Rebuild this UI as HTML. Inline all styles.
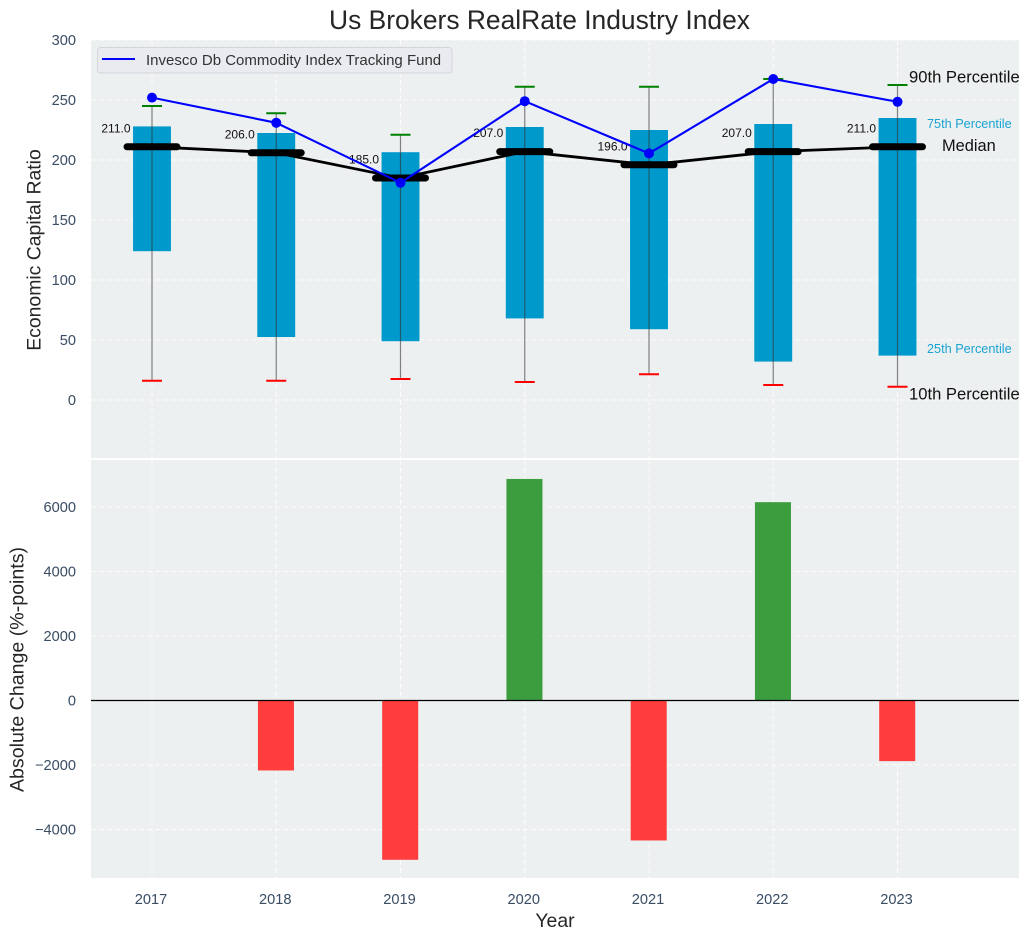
<!DOCTYPE html>
<html lang="en">
<head>
<meta charset="utf-8">
<title>Us Brokers RealRate Industry Index</title>
<style>
html,body{margin:0;padding:0;background:#fff;width:1030px;height:940px;overflow:hidden}
svg{display:block;font-family:"Liberation Sans",Arial,sans-serif}
</style>
</head>
<body>
<svg id="chart" xmlns="http://www.w3.org/2000/svg" width="1030" height="940" viewBox="0 0 1030 940">
  <rect x="91" y="40" width="928" height="418" fill="#ecf0f1"/>
  <rect x="91" y="460" width="928" height="418" fill="#ecf0f1"/>
  <g id="grid"></g>
  <g id="ticks" font-size="14.6" fill="#3a4d63"></g>
  <g id="bars"></g>
  <g id="boxes"></g>
  <g id="medians"></g>
  <g id="fund"></g>
  <text x="539.5" y="29" font-size="26.4" text-anchor="middle" fill="#262626">Us Brokers RealRate Industry Index</text>
  <text transform="translate(40.5,250) rotate(-90)" font-size="19.4" text-anchor="middle" fill="#262626">Economic Capital Ratio</text>
  <text transform="translate(23.5,669.5) rotate(-90)" font-size="19.6" text-anchor="middle" fill="#262626">Absolute Change (%-points)</text>
  <text x="555" y="927" font-size="19.4" text-anchor="middle" fill="#262626">Year</text>
  <g>
    <rect x="97.5" y="47.5" width="354.5" height="25.5" rx="3" fill="#e9ebf0" stroke="#d2d5da" stroke-width="1"/>
    <line x1="102" y1="59" x2="135" y2="59" stroke="#0000ff" stroke-width="2"/>
    <text x="146" y="65" font-size="15" fill="#333">Invesco Db Commodity Index Tracking Fund</text>
  </g>
  <g>
    <text x="909" y="82.5" font-size="16.6" fill="#111">90th Percentile</text>
    <text x="927" y="128" font-size="12.7" fill="#1aa3d1">75th Percentile</text>
    <text x="942" y="151" font-size="16.4" fill="#111">Median</text>
    <text x="927" y="353" font-size="12.7" fill="#1aa3d1">25th Percentile</text>
    <text x="909" y="399.5" font-size="16.6" fill="#111">10th Percentile</text>
  </g>
</svg>
<script>
const years = [2017, 2018, 2019, 2020, 2021, 2022, 2023];
const p90 = [245, 239, 221, 261, 261, 267.5, 262.5];
const p75 = [228, 222.5, 206.5, 227.5, 225, 230, 235];
const medianValues = [211, 206, 185, 207, 196, 207, 211];
const p25 = [124, 52.5, 49, 68, 59, 32, 37];
const p10 = [16, 16, 17.5, 15, 21.5, 12.5, 11];
const fundValues = [252, 231, 181, 249, 205.5, 267.5, 248.5];
const absoluteChange = [0, -2170, -4940, 6870, -4340, 6150, -1880];
const topTicks = [0, 50, 100, 150, 200, 250, 300];
const bottomTicks = [-4000, -2000, 0, 2000, 4000, 6000];

const x = function (year) { return 152 + (year - 2017) * 124.25; };
const yTop = function (v) { return 400 - v * 1.2; };
const yBottom = function (v) { return 700.5 - v * 0.03225; };
const NS = 'http://www.w3.org/2000/svg';

function make(parent, tag, attrs, text) {
  const el = document.createElementNS(NS, tag);
  for (const k in attrs) el.setAttribute(k, attrs[k]);
  if (text !== undefined) el.textContent = text;
  document.getElementById(parent).appendChild(el);
  return el;
}
const gridStyle = { stroke: '#ffffff', 'stroke-width': 1, 'stroke-dasharray': '5 3', opacity: 0.85 };

topTicks.forEach(function (t) {
  const g = make('grid', 'line', Object.assign({ x1: 91, x2: 1019, y1: yTop(t), y2: yTop(t) }, gridStyle));
  
  
  const l = make('ticks', 'text', { x: 76, y: yTop(t) + 5, 'text-anchor': 'end' }, String(t));
  
  
});
bottomTicks.forEach(function (t) {
  const g = make('grid', 'line', Object.assign({ x1: 91, x2: 1019, y1: yBottom(t), y2: yBottom(t) }, gridStyle));
  
  
  const l = make('ticks', 'text', { x: 76, y: yBottom(t) + 5, 'text-anchor': 'end' }, String(t).replace('-', '\u2212'));
  
  
});
years.forEach(function (yr) {
  const a = make('grid', 'line', Object.assign({ x1: x(yr), x2: x(yr), y1: 40, y2: 458 }, gridStyle));
  
  
  const b = make('grid', 'line', Object.assign({ x1: x(yr), x2: x(yr), y1: 460, y2: 878 }, gridStyle));
  
  
  const l = make('ticks', 'text', { x: x(yr) - 1, y: 904, 'text-anchor': 'middle' }, String(yr));
  
  
});

const barWidthYears = 0.29;
years.forEach(function (yr, i) {
  const v = absoluteChange[i];
  if (v === 0) return;
  const w = barWidthYears * 124.25;
  const top = Math.min(yBottom(0), yBottom(v));
  const b = make('bars', 'rect', {
    x: x(yr) - w / 2 - 0.3, y: top, width: w, height: Math.abs(yBottom(v) - yBottom(0)),
    fill: v > 0 ? '#3b9d3d' : '#ff3d3d'
  });
  
  
});
const zero = make('bars', 'line', { x1: 91, x2: 1019, y1: yBottom(0), y2: yBottom(0), stroke: '#000', 'stroke-width': 1.2 });



const boxWidthYears = 0.305;
years.forEach(function (yr, i) {
  const w = boxWidthYears * 124.25;
  const box = make('boxes', 'rect', {
    x: x(yr) - w / 2, y: yTop(p75[i]), width: w, height: yTop(p25[i]) - yTop(p75[i]), fill: '#0099cc'
  });
  
  
  const whisker = make('boxes', 'line', {
    x1: x(yr), x2: x(yr), y1: yTop(p90[i]), y2: yTop(p10[i]), stroke: '#333', 'stroke-width': 1.2, opacity: 0.6
  });
  
  
  const hi = make('boxes', 'line', {
    x1: x(yr) - 10, x2: x(yr) + 10, y1: yTop(p90[i]), y2: yTop(p90[i]), stroke: '#008000', 'stroke-width': 2
  });
  
  
  const lo = make('boxes', 'line', {
    x1: x(yr) - 10, x2: x(yr) + 10, y1: yTop(p10[i]), y2: yTop(p10[i]), stroke: '#ff0000', 'stroke-width': 2
  });
  
  
});

const medLine = make('medians', 'polyline', {
  points: years.map(function (yr, i) { return x(yr) + ',' + yTop(medianValues[i]); }).join(' '),
  fill: 'none', stroke: '#000', 'stroke-width': 2.8
});


years.forEach(function (yr, i) {
  const seg = make('medians', 'line', {
    x1: x(yr) - 25, x2: x(yr) + 25, y1: yTop(medianValues[i]), y2: yTop(medianValues[i]),
    stroke: '#000', 'stroke-width': 7, 'stroke-linecap': 'round'
  });
  
  
  const label = make('medians', 'text', {
    x: x(yr) - 21.5, y: yTop(medianValues[i]) - 14.5, 'text-anchor': 'end', 'font-size': 12, fill: '#111'
  }, medianValues[i].toFixed(1));
  
  
});

const fundLine = make('fund', 'polyline', {
  points: years.map(function (yr, i) { return x(yr) + ',' + yTop(fundValues[i]); }).join(' '),
  fill: 'none', stroke: '#0000ff', 'stroke-width': 2.1
});


years.forEach(function (yr, i) {
  const pt = make('fund', 'circle', { cx: x(yr), cy: yTop(fundValues[i]), r: 5, fill: '#0000ff' });
  
  
});
</script>
</body>
</html>
